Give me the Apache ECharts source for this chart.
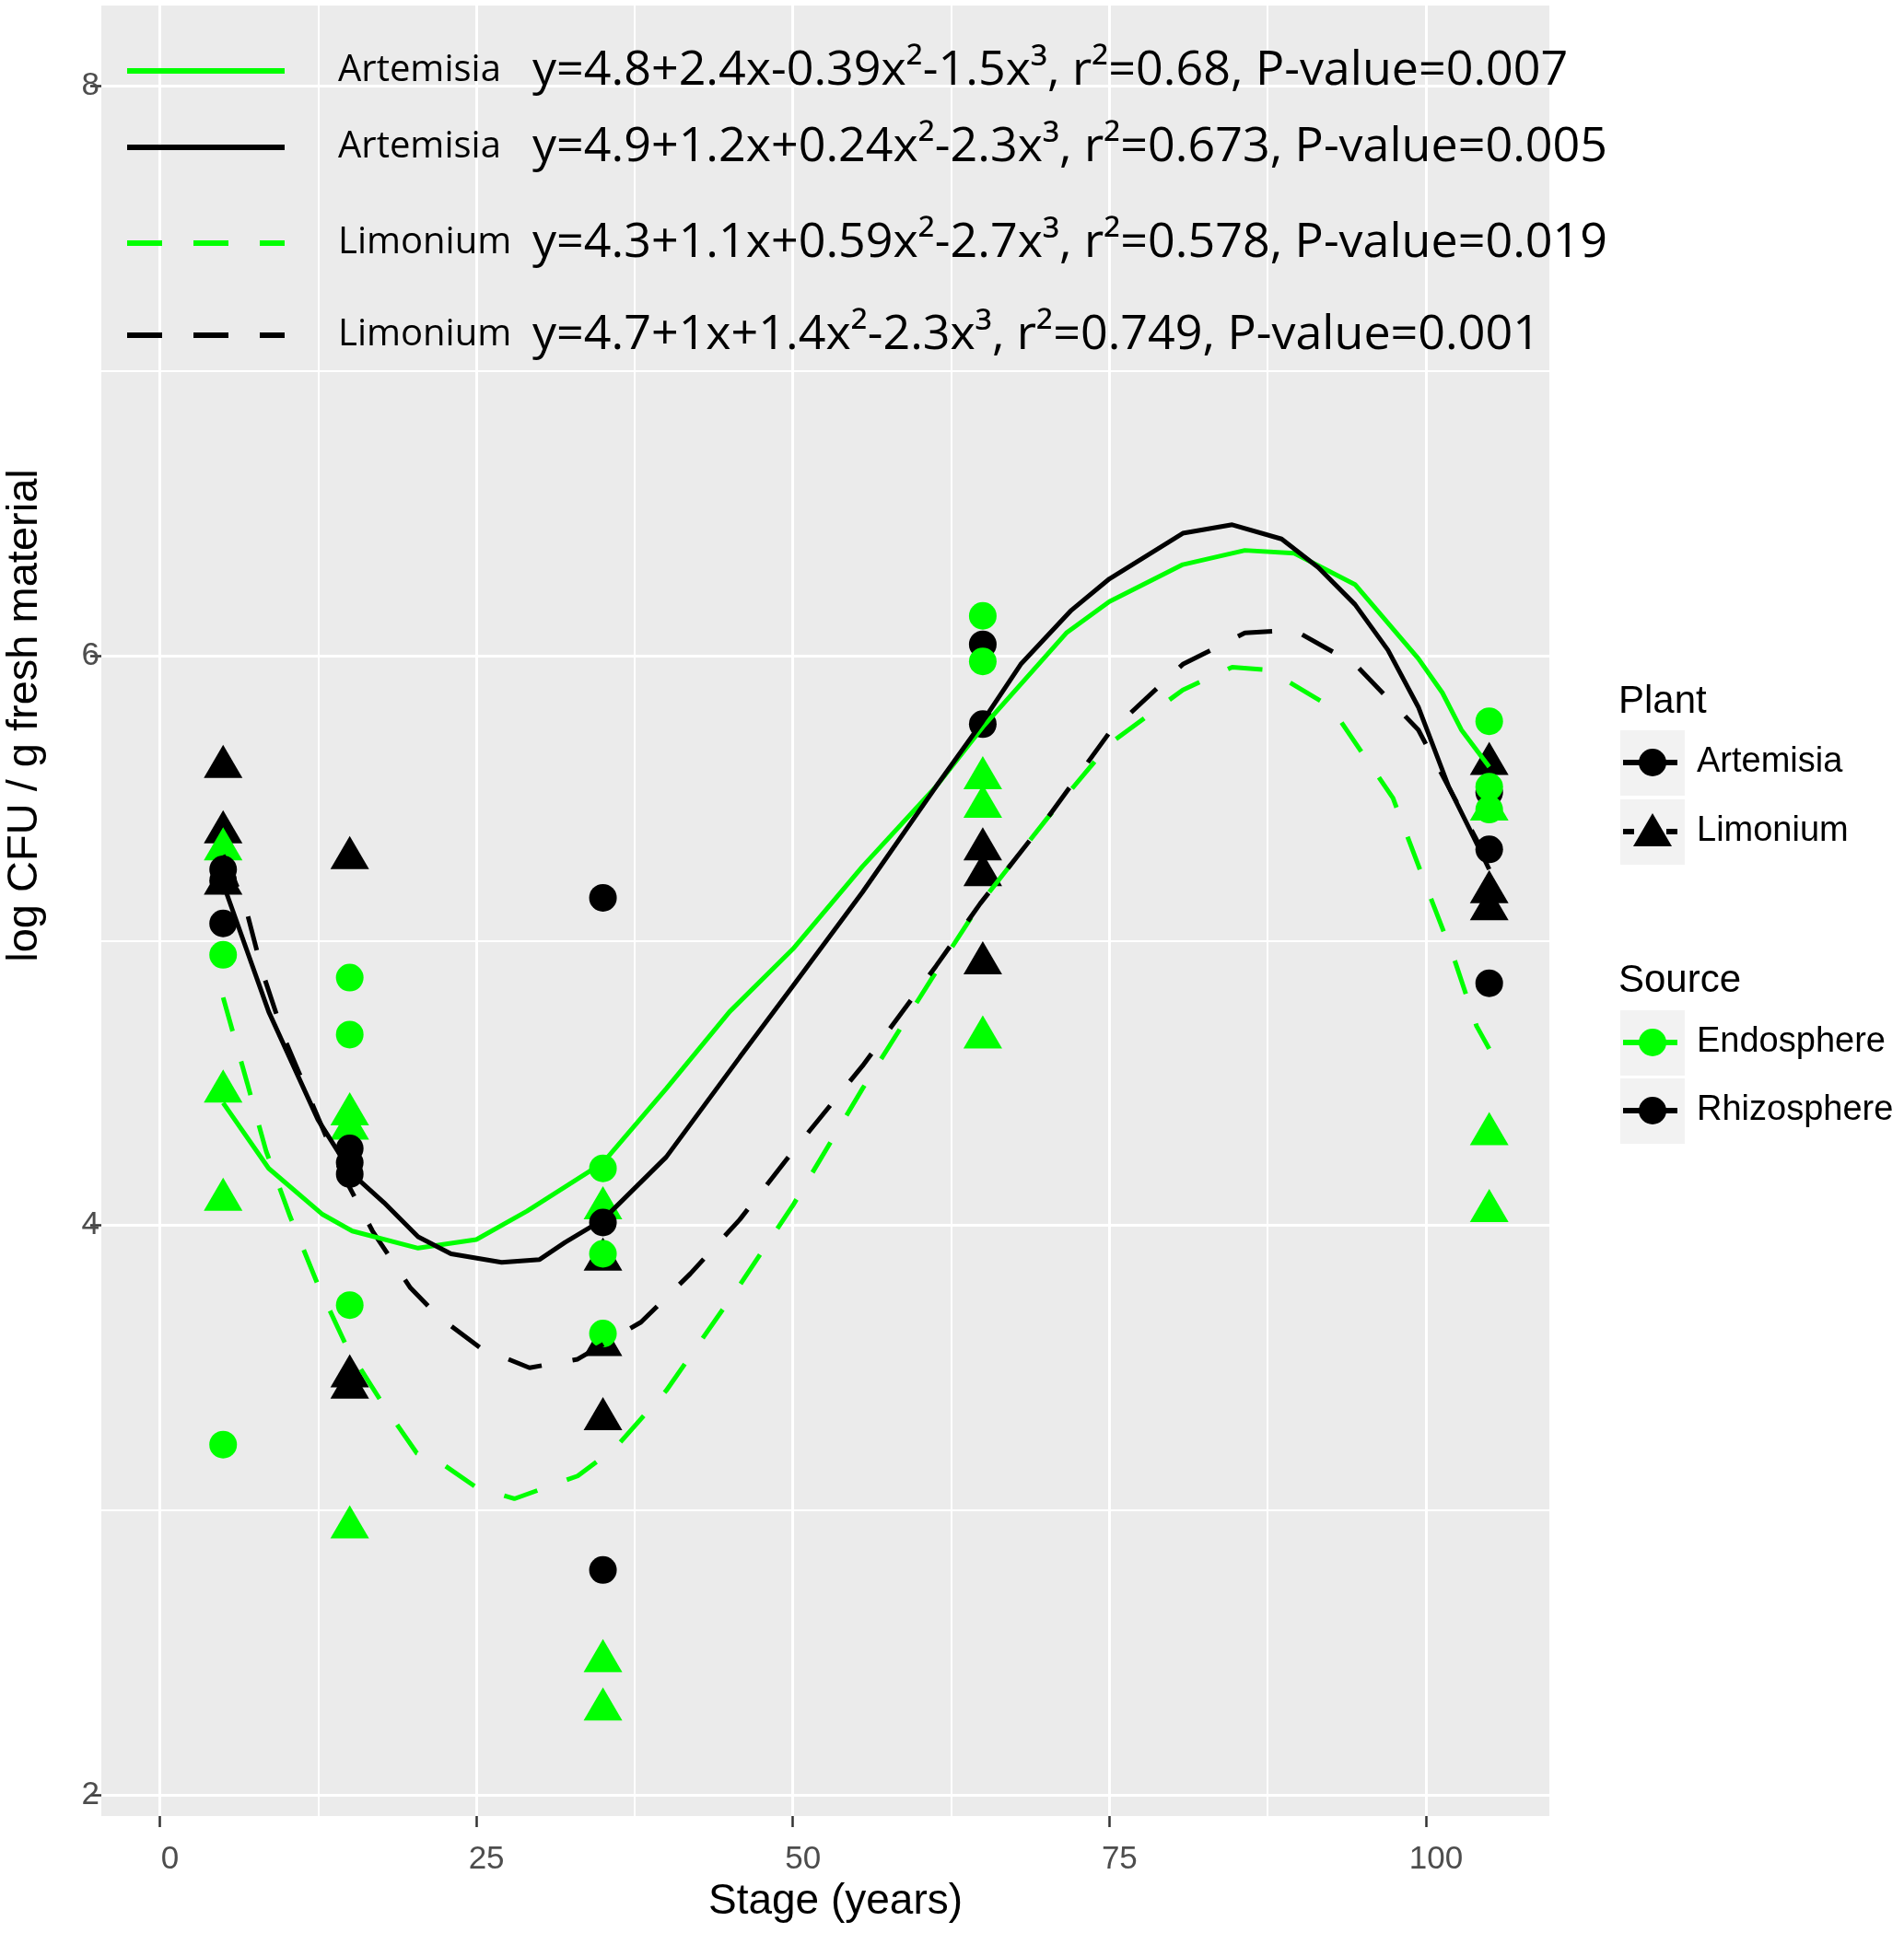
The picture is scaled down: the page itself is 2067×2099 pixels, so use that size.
<!DOCTYPE html>
<html>
<head>
<meta charset="utf-8">
<script src="https://cdn.jsdelivr.net/npm/echarts@6/dist/echarts.min.js"></script>
<style>
  html, body { margin: 0; padding: 0; background: #fff; }
  #main { width: 2067px; height: 2099px; }
</style>
</head>
<body>
<div id="main"></div>
<script>
// ---- data ----
var xTicks = [0, 25, 50, 75, 100];
var xMinor = [12.5, 37.5, 62.5, 87.5];
var yTicks = [2, 4, 6, 8];
var yMinor = [3, 5, 7];

// points [stage, log CFU]
var limRhizo = [[5, 5.61], [5, 5.38], [5, 5.20], [15, 5.29], [15, 3.47], [15, 3.43],
  [35, 3.88], [35, 3.58], [35, 3.32], [65, 5.32], [65, 5.23], [65, 4.92],
  [105, 5.62], [105, 5.17], [105, 5.11]];
var limEndo = [[5, 5.32], [5, 4.47], [5, 4.09], [15, 4.39], [15, 4.34], [15, 2.94],
  [35, 4.06], [35, 2.47], [35, 2.30], [65, 5.57], [65, 5.47], [65, 4.66],
  [105, 5.46], [105, 4.32], [105, 4.05]];
var artRhizo = [[5, 5.25], [5, 5.21], [5, 5.06], [15, 4.27], [15, 4.22], [15, 4.18],
  [35, 5.15], [35, 4.01], [35, 2.79], [65, 6.04], [65, 5.76],
  [105, 5.52], [105, 5.32], [105, 4.85]];
var artEndo = [[5, 4.95], [5, 3.23], [15, 4.87], [15, 4.67], [15, 3.72],
  [35, 4.20], [35, 3.90], [35, 3.62], [65, 6.14], [65, 5.98],
  [105, 5.77], [105, 5.54], [105, 5.46]];

// fitted curves, read point by point
var fitArtEndo = [[5, 4.43], [8.6, 4.20], [12.8, 4.04], [15.2, 3.98], [20.4, 3.92], [25, 3.95],
  [29, 4.05], [35, 4.22], [40, 4.48], [45, 4.75], [50, 4.97], [55.5, 5.26], [61.3, 5.54],
  [65, 5.75], [71.6, 6.08], [75, 6.19], [80.8, 6.32], [85.7, 6.37], [89.6, 6.36], [94.4, 6.25],
  [99.4, 5.99], [101.3, 5.87], [102.8, 5.74], [105, 5.61]];
var fitArtRhizo = [[5, 5.20], [8.6, 4.75], [12.5, 4.37], [15.2, 4.18], [17.7, 4.08], [20.4, 3.96],
  [23, 3.90], [27, 3.87], [30, 3.88], [32, 3.94], [35, 4.02], [40, 4.24], [45.8, 4.59],
  [50, 4.84], [55.5, 5.17], [61.3, 5.54], [65, 5.77], [68, 5.97], [72, 6.16], [75, 6.27],
  [80.8, 6.43], [84.7, 6.46], [88.6, 6.41], [91.5, 6.31], [94.4, 6.18], [97, 6.02],
  [99.4, 5.82], [101.8, 5.54], [103.8, 5.36], [105, 5.25]];
var fitLimEndo = [[5, 4.80], [6.9, 4.50], [8.4, 4.26], [10.3, 4.03], [12.5, 3.79], [14.8, 3.57],
  [17.8, 3.36], [20.3, 3.20], [22.4, 3.16], [25, 3.08], [28, 3.04], [33, 3.12], [36, 3.22],
  [40, 3.42], [45.8, 3.79], [50, 4.07], [55.5, 4.48], [61.3, 4.89], [64.8, 5.13], [70.1, 5.43],
  [75, 5.69], [80.8, 5.88], [84.7, 5.96], [87.6, 5.95], [92.5, 5.82], [97.4, 5.50],
  [100.2, 5.17], [102.2, 4.94], [104, 4.70], [105, 4.62]];
var fitLimRhizo = [[5, 5.30], [6.7, 5.13], [8.1, 4.89], [9.9, 4.65], [12.1, 4.42], [14.2, 4.20],
  [16.8, 3.98], [19.8, 3.78], [22, 3.68], [25.3, 3.57], [29.2, 3.50], [33, 3.53], [38, 3.66],
  [41.9, 3.83], [45.8, 4.02], [50, 4.26], [55.5, 4.56], [61.3, 4.91], [64.8, 5.13],
  [70.1, 5.43], [75, 5.73], [80.8, 5.97], [85.7, 6.08], [89.6, 6.09], [94.4, 5.97],
  [99.4, 5.74], [105, 5.27]];

var fitNames = ['Artemisia Endosphere fit', 'Artemisia Rhizosphere fit', 'Limonium Endosphere fit', 'Limonium Rhizosphere fit'];
var fitPlants = ['Artemisia', 'Artemisia', 'Limonium', 'Limonium'];
var fitEquations = [
  'y=4.8+2.4x-0.39x²-1.5x³, r²=0.68, P-value=0.007',
  'y=4.9+1.2x+0.24x²-2.3x³, r²=0.673, P-value=0.005',
  'y=4.3+1.1x+0.59x²-2.7x³, r²=0.578, P-value=0.019',
  'y=4.7+1x+1.4x²-2.3x³, r²=0.749, P-value=0.001'
];

var GREEN = '#00FF00';
var BLACK = '#000000';

var chart = echarts.init(document.getElementById('main'), null, { renderer: 'canvas' });

/* top-left legend: one legend per fitted curve, spacing is uneven in the original */
var legendTops = [51, 134, 238, 338];
var legends = fitNames.map(function (n, i) {
  return {
    data: [n],
    left: 135,
    top: legendTops[i],
    padding: 0,
    selectedMode: false,
    itemWidth: 171,
    itemHeight: 6,
    lineStyle: { width: 6 },
    itemStyle: { opacity: 0 },
    formatter: function () {
      return '{a|' + fitPlants[i] + '}{b|' + fitEquations[i] + '}';
    },
    textStyle: {
      rich: {
        a: { fontFamily: 'Open Sans', fontSize: 40, color: '#000', width: 211, padding: [0, 0, 0, 53], lineHeight: 62 },
        b: { fontFamily: 'Open Sans', fontSize: 52, color: '#000', lineHeight: 62 }
      }
    }
  };
});

/* right legend (Plant / Source) drawn as graphic */
function keyItems(top, label, color, shape, dash) {
  var cx = 1794, cy = top + 35;
  var items = [
    { type: 'rect', shape: { x: 1759, y: top, width: 70, height: 71 }, style: { fill: '#F2F2F2' } },
    { type: 'line', shape: { x1: 1762, y1: cy, x2: 1821, y2: cy },
      style: { stroke: color, lineWidth: 6, lineDash: dash } }
  ];
  if (shape === 'circle') {
    items.push({ type: 'circle', shape: { cx: cx, cy: cy, r: 15 }, style: { fill: color } });
  } else {
    items.push({ type: 'polygon', shape: { points: [[cx, cy - 20], [cx + 21, cy + 16], [cx - 21, cy + 16]] }, style: { fill: color } });
  }
  items.push({ type: 'text', x: 1842, y: cy,
    style: { text: label, font: '38px "Liberation Sans"', fill: '#000', verticalAlign: 'middle' } });
  return items;
}

var graphics = [
  { type: 'text', x: 27, y: 777, rotation: Math.PI / 2,
    style: { text: 'log CFU / g fresh material', font: '47px "Liberation Sans"', fill: '#000', align: 'center', verticalAlign: 'middle' } },
  { type: 'text', x: 1757, y: 762, style: { text: 'Plant', font: '42px "Liberation Sans"', fill: '#000', verticalAlign: 'middle' } },
  { type: 'text', x: 1757, y: 1065, style: { text: 'Source', font: '42px "Liberation Sans"', fill: '#000', verticalAlign: 'middle' } }
]
  .concat(keyItems(793, 'Artemisia', BLACK, 'circle', null))
  .concat(keyItems(868, 'Limonium', BLACK, 'triangle', [12, 35]))
  .concat(keyItems(1097, 'Endosphere', GREEN, 'circle', null))
  .concat(keyItems(1171, 'Rhizosphere', BLACK, 'circle', null));

var option = {
  animation: false,
  backgroundColor: '#ffffff',
  grid: { left: 110, right: 385, top: 6, bottom: 127, backgroundColor: '#EBEBEB', show: true, borderWidth: 0 },
  legend: legends,
  graphic: graphics,
  xAxis: [{
    type: 'value',
    min: -4.62,
    max: 109.75,
    name: 'Stage (years)',
    nameLocation: 'middle',
    nameGap: 66,
    nameTextStyle: { fontFamily: 'Liberation Sans', fontSize: 46, color: '#000', padding: [0, 0, 0, 22] },
    axisLine: { show: false, onZero: false },
    axisTick: { show: true, length: 12, customValues: xTicks, lineStyle: { color: '#333333', width: 2.5 } },
    axisLabel: { customValues: xTicks, margin: 30, fontFamily: 'Liberation Sans', fontSize: 35, color: '#4D4D4D', padding: [0, 0, 0, 22] },
    splitLine: { show: true, lineStyle: { color: '#ffffff', width: 3 } }
  }, {
    // minor vertical grid lines
    type: 'value',
    min: -4.62,
    max: 109.75,
    position: 'bottom',
    axisLine: { show: false, onZero: false },
    axisTick: { show: false, customValues: xMinor },
    axisLabel: { show: false },
    splitLine: { show: true, lineStyle: { color: '#ffffff', width: 2 } }
  }],
  yAxis: [{
    type: 'value',
    min: 1.926,
    max: 8.283,
    axisLine: { show: false, onZero: false },
    axisTick: { show: true, length: 12, customValues: yTicks, lineStyle: { color: '#333333', width: 2.5 } },
    axisLabel: { customValues: yTicks, margin: 2, fontFamily: 'Liberation Sans', fontSize: 35, color: '#4D4D4D' },
    splitLine: { show: true, lineStyle: { color: '#ffffff', width: 3 } }
  }, {
    // minor horizontal grid lines
    type: 'value',
    min: 1.926,
    max: 8.283,
    position: 'left',
    axisLine: { show: false, onZero: false },
    axisTick: { show: false, customValues: yMinor },
    axisLabel: { show: false },
    splitLine: { show: true, lineStyle: { color: '#ffffff', width: 2 } }
  }],
  series: [
    { name: 'Limonium Rhizosphere', type: 'scatter', data: limRhizo, symbol: 'triangle',
      symbolSize: [42, 36], symbolOffset: [0, -6], itemStyle: { color: BLACK, opacity: 1 }, silent: true },
    { name: 'Limonium Endosphere', type: 'scatter', data: limEndo, symbol: 'triangle',
      symbolSize: [42, 36], symbolOffset: [0, -6], itemStyle: { color: GREEN, opacity: 1 }, silent: true },
    { name: 'Artemisia Rhizosphere', type: 'scatter', data: artRhizo, symbol: 'circle',
      symbolSize: 30, itemStyle: { color: BLACK, opacity: 1 }, silent: true },
    { name: 'Artemisia Endosphere', type: 'scatter', data: artEndo, symbol: 'circle',
      symbolSize: 30, itemStyle: { color: GREEN, opacity: 1 }, silent: true },
    { name: fitNames[2], type: 'line', data: fitLimEndo, symbol: 'none', silent: true,
      itemStyle: { color: GREEN }, lineStyle: { color: GREEN, width: 5, type: [38, 34] } },
    { name: fitNames[3], type: 'line', data: fitLimRhizo, symbol: 'none', silent: true,
      itemStyle: { color: BLACK }, lineStyle: { color: BLACK, width: 5, type: [38, 34] } },
    { name: fitNames[0], type: 'line', data: fitArtEndo, symbol: 'none', silent: true,
      itemStyle: { color: GREEN }, lineStyle: { color: GREEN, width: 5 } },
    { name: fitNames[1], type: 'line', data: fitArtRhizo, symbol: 'none', silent: true,
      itemStyle: { color: BLACK }, lineStyle: { color: BLACK, width: 5 } }
  ]
};

chart.setOption(option);
</script>
</body>
</html>
